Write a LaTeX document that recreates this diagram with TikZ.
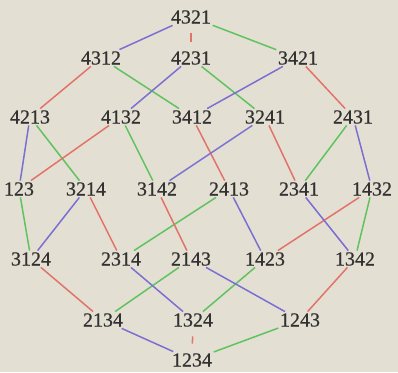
\documentclass[tikz,border=0pt]{standalone}
\usepackage{fontspec}
\setmainfont{Liberation Serif}
\newfontfamily\labfont[FakeBold=0.6]{Liberation Serif}
\definecolor{bgcol}{RGB}{228,223,211}
\definecolor{txtcol}{RGB}{50,50,50}
\definecolor{cgreen}{RGB}{95,195,95}
\definecolor{cred}{RGB}{226,115,105}
\definecolor{cblue}{RGB}{122,112,210}
\begin{document}
\begin{tikzpicture}[x=1pt,y=-1pt,
  perm/.style={inner sep=1.5pt, text=txtcol, font=\labfont\fontsize{20}{20}\selectfont},
  eg/.style={draw=cgreen, line width=1.5pt},
  er/.style={draw=cred, line width=1.5pt},
  eb/.style={draw=cblue, line width=1.5pt},
  tick/.style={shorten >=8pt, shorten <=8pt}]
\fill[bgcol] (0,0) rectangle (398,372);
\useasboundingbox (0,0) rectangle (398,372);
% row 1
\node[perm] (p4321) at (191,17) {4321};
% row 2
\node[perm] (p4312) at (101,58) {4312};
\node[perm] (p4231) at (191,58) {4231};
\node[perm] (p3421) at (298,58) {3421};
% row 3
\node[perm] (p4213) at (30,117) {4213};
\node[perm] (p4132) at (121,117) {4132};
\node[perm] (p3412) at (192,117) {3412};
\node[perm] (p3241) at (265,117) {3241};
\node[perm] (p2431) at (353,117) {2431};
% row 4
\node[perm] (p4123) at (19,189) {123};
\node[perm] (p3214) at (86,189) {3214};
\node[perm] (p3142) at (157,189) {3142};
\node[perm] (p2413) at (229,189) {2413};
\node[perm] (p2341) at (299,189) {2341};
\node[perm] (p1432) at (372,189) {1432};
% row 5
\node[perm] (p3124) at (31,259) {3124};
\node[perm] (p2314) at (121,259) {2314};
\node[perm] (p2143) at (191,259) {2143};
\node[perm] (p1423) at (265,259) {1423};
\node[perm] (p1342) at (355,259) {1342};
% row 6
\node[perm] (p2134) at (103,320) {2134};
\node[perm] (p1324) at (193,320) {1324};
\node[perm] (p1243) at (300,320) {1243};
% row 7
\node[perm] (p1234) at (192,360) {1234};
% green edges (swap values 3,4)
\draw[eg] (p4321) -- (p3421);
\draw[eg] (p4312) -- (p3412);
\draw[eg] (p4231) -- (p3241);
\draw[eg] (p4213) -- (p3214);
\draw[eg] (p4132) -- (p3142);
\draw[eg] (p2431) -- (p2341);
\draw[eg] (p4123) -- (p3124);
\draw[eg] (p2413) -- (p2314);
\draw[eg] (p1432) -- (p1342);
\draw[eg] (p2143) -- (p2134);
\draw[eg] (p1423) -- (p1324);
\draw[eg] (p1243) -- (p1234);
% red edges (swap values 2,3)
\draw[er,tick] (p4321) -- (p4231);
\draw[er] (p4312) -- (p4213);
\draw[er] (p3421) -- (p2431);
\draw[er] (p4132) -- (p4123);
\draw[er] (p3412) -- (p2413);
\draw[er] (p3241) -- (p2341);
\draw[er] (p3214) -- (p2314);
\draw[er] (p3142) -- (p2143);
\draw[er] (p1432) -- (p1423);
\draw[er] (p3124) -- (p2134);
\draw[er] (p1342) -- (p1243);
\draw[er,tick] (p1324) -- (p1234);
% blue edges (swap values 1,2)
\draw[eb] (p4321) -- (p4312);
\draw[eb] (p4231) -- (p4132);
\draw[eb] (p3421) -- (p3412);
\draw[eb] (p4213) -- (p4123);
\draw[eb] (p3241) -- (p3142);
\draw[eb] (p2431) -- (p1432);
\draw[eb] (p3214) -- (p3124);
\draw[eb] (p2413) -- (p1423);
\draw[eb] (p2341) -- (p1342);
\draw[eb] (p2314) -- (p1324);
\draw[eb] (p2143) -- (p1243);
\draw[eb] (p2134) -- (p1234);
\end{tikzpicture}
\end{document}
